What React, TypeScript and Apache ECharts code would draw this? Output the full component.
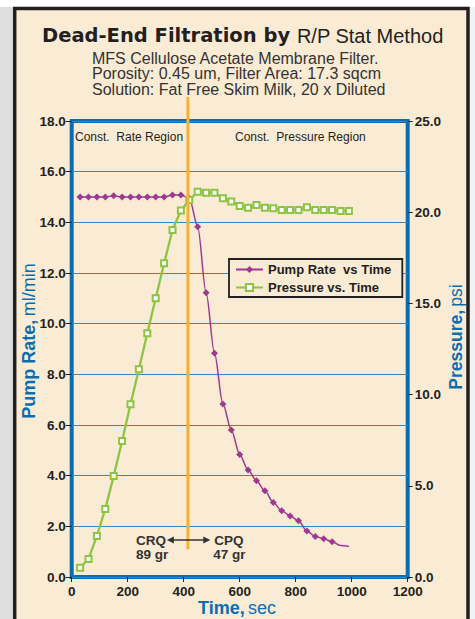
import React, { useEffect, useRef } from 'react';
import * as echarts from 'echarts';

// ---- data ----
const times = [30, 60, 90, 120, 150, 180, 210, 240, 270, 300, 330, 360, 390, 420, 450, 480, 510, 540, 570, 600, 630, 660, 690, 720, 750, 780, 810, 840, 870, 900, 930, 960, 990];
const pumpRate = [15.0, 15.0, 15.0, 15.0, 15.05, 15.0, 15.0, 15.0, 15.0, 15.0, 15.0, 15.08, 15.08, 14.95, 13.83, 11.22, 8.83, 6.83, 5.8, 4.84, 4.22, 3.8, 3.4, 2.94, 2.62, 2.41, 2.22, 1.82, 1.6, 1.51, 1.39, 1.24, 1.2];
const pumpMarkerCount = 31; // last two points drawn without markers
const pressure = [0.51, 0.99, 2.25, 3.73, 5.54, 7.46, 9.47, 11.39, 13.36, 15.28, 17.2, 19.02, 20.09, 20.67, 21.12, 21.07, 21.07, 20.76, 20.58, 20.34, 20.25, 20.39, 20.25, 20.21, 20.12, 20.12, 20.12, 20.27, 20.12, 20.12, 20.12, 20.07, 20.07];

const seriesNames = ['Pump Rate  vs Time', 'Pressure vs. Time'];
const leftAxis = { min: 0, max: 18, interval: 2 };
const rightAxis = { min: 0, max: 25, interval: 5 };
const timeAxis = { min: 0, max: 1200, interval: 200 };

// switch point (orange line) and CRQ/CPQ annotation
const switchTime = 415;
const switchTop = 18.95;
const switchBottom = 1.1;
const arrowFrom = 340;
const arrowTo = 495;
const arrowLevel = 1.46;

const titleBold = 'Dead-End Filtration by ';
const titleNormal = 'R/P Stat Method';
const subtitle = [
  'MFS Cellulose Acetate Membrane Filter.',
  'Porosity: 0.45 um, Filter Area: 17.3 sqcm',
  'Solution: Fat Free Skim Milk, 20 x Diluted',
];

const BLUE = '#0B6DB1';
const GRIDC = '#3A86BE';
const CREAM = '#FAEBD4';
const DARK = '#231F20';
const PURPLE = '#9C3A91';
const GREEN = '#8CC443';
const ORANGE = '#F5B335';
const FONT = '"Liberation Sans", Arial, sans-serif';

export default function App() {
  const ref = useRef<HTMLDivElement>(null);

  useEffect(() => {
    document.body.style.margin = '0';
    const chart = echarts.init(ref.current!, null, { renderer: 'svg', width: 475, height: 619 });

    const tickLabel = { fontSize: 13.5, fontWeight: 'bold' as const, color: DARK, fontFamily: FONT };

    chart.setOption({
      animation: false,
      backgroundColor: CREAM,
      textStyle: { fontFamily: FONT },
      grid: {
        left: 71.7, right: 67.3, top: 121, bottom: 42,
        show: true, borderColor: BLUE, borderWidth: 4, backgroundColor: 'transparent',
      },
      legend: {
        data: seriesNames,
        orient: 'vertical',
        left: 229, top: 259,
        backgroundColor: CREAM,
        borderColor: DARK,
        borderWidth: 1.8,
        borderRadius: 0,
        padding: [4, 11, 3, 6],
        itemWidth: 27, itemHeight: 9, itemGap: 5,
        textStyle: { fontSize: 13, fontWeight: 'bold', color: DARK, fontFamily: FONT },
      },
      xAxis: {
        type: 'value', ...timeAxis,
        axisLine: { show: false },
        axisTick: { show: true, length: 5, lineStyle: { color: DARK } },
        axisLabel: { ...tickLabel, margin: 7, formatter: (v: number) => String(v) },
        splitLine: { show: false },
      },
      yAxis: [
        {
          type: 'value', position: 'left', ...leftAxis,
          axisLine: { show: false },
          axisTick: { show: true, length: 6, lineStyle: { color: DARK } },
          axisLabel: { ...tickLabel, margin: 6, formatter: (v: number) => v.toFixed(1) },
          splitLine: { show: true, lineStyle: { color: GRIDC, width: 1.2 } },
        },
        {
          type: 'value', position: 'right', ...rightAxis,
          axisLine: { show: false },
          axisTick: { show: true, length: 5, lineStyle: { color: DARK } },
          axisLabel: { ...tickLabel, margin: 7, formatter: (v: number) => v.toFixed(1) },
          splitLine: { show: false },
        },
      ],
      series: [
        {
          name: seriesNames[0], type: 'line', yAxisIndex: 0,
          smooth: 0.3, smoothMonotone: 'x',
          symbol: 'diamond', symbolSize: 7,
          lineStyle: { color: PURPLE, width: 1.5 },
          itemStyle: { color: PURPLE },
          data: times.map((t, i) => i < pumpMarkerCount
            ? { value: [t, pumpRate[i]] }
            : { value: [t, pumpRate[i]], symbol: 'none' }),
          z: 3,
        },
        {
          name: seriesNames[1], type: 'line', yAxisIndex: 1,
          symbol: 'emptyRect', symbolSize: 6,
          lineStyle: { color: GREEN, width: 2.3 },
          itemStyle: { color: GREEN, borderWidth: 2 },
          data: times.map((t, i) => [t, pressure[i]]),
          z: 4,
        },
      ],
    });

    const px = (t: number, v: number) => chart.convertToPixel({ xAxisIndex: 0, yAxisIndex: 0 }, [t, v]) as number[];
    const sTop = px(switchTime, switchTop);
    const sBot = px(switchTime, switchBottom);
    const aL = px(arrowFrom, arrowLevel);
    const aR = px(arrowTo, arrowLevel);

    const txt = (x: number, y: number, text: string, size: number, weight: string, extra: any = {}) => ({
      type: 'text', x, y, z: 20,
      style: {
        text, fontSize: size, fontWeight: weight, fontFamily: FONT, fill: extra.fill || DARK,
        textAlign: extra.align || 'left', textVerticalAlign: 'middle',
      },
    });

    chart.setOption({
      graphic: [
        // outside page and frame
        { type: 'rect', z: 30, shape: { x: 0, y: 0, width: 475, height: 7 }, style: { fill: '#ffffff' } },
        { type: 'rect', z: 30, shape: { x: 0, y: 7, width: 13, height: 612 }, style: { fill: '#DEDEDE' } },
        { type: 'rect', z: 30, shape: { x: 470, y: 7, width: 5, height: 612 }, style: { fill: '#F2F2F2' } },
        {
          type: 'polyline', z: 31,
          shape: { points: [[14.7, 625], [14.7, 8.5], [468, 8.5], [468, 625]] },
          style: { stroke: DARK, lineWidth: 3.5, fill: 'none' },
        },
        // title
        {
          type: 'text', x: 42, y: 35.5, z: 20,
          style: {
            text: `{b|${titleBold}}{n|${titleNormal}}`,
            textAlign: 'left', textVerticalAlign: 'middle',
            rich: {
              b: { fontFamily: '"DejaVu Sans", sans-serif', fontWeight: 'bold', fontSize: 19.5, fill: DARK },
              n: { fontFamily: FONT, fontWeight: 'normal', fontSize: 20, fill: DARK },
            },
          },
        },
        ...subtitle.map((s, i) => txt(92, 58 + i * 15.5, s, 16, 'normal', { fill: '#333333' })),
        // region labels
        txt(75, 137, 'Const.  Rate Region', 12, 'normal'),
        txt(235, 137, 'Const.  Pressure Region', 12, 'normal'),
        // orange switch line
        {
          type: 'line', z: 15,
          shape: { x1: sTop[0], y1: sTop[1], x2: sBot[0], y2: sBot[1] },
          style: { stroke: ORANGE, lineWidth: 3 },
        },
        // double arrow
        {
          type: 'line', z: 16,
          shape: { x1: aL[0] + 3, y1: aL[1], x2: aR[0] - 3, y2: aR[1] },
          style: { stroke: '#333333', lineWidth: 1.3 },
        },
        {
          type: 'polygon', z: 16,
          shape: { points: [[aL[0], aL[1]], [aL[0] + 7, aL[1] - 3.5], [aL[0] + 7, aL[1] + 3.5]] },
          style: { fill: '#333333' },
        },
        {
          type: 'polygon', z: 16,
          shape: { points: [[aR[0], aR[1]], [aR[0] - 7, aR[1] - 3.5], [aR[0] - 7, aR[1] + 3.5]] },
          style: { fill: '#333333' },
        },
        txt(aL[0] - 31, aL[1], 'CRQ', 13.5, 'bold', { fill: '#333333' }),
        txt(aL[0] - 31, aL[1] + 14, '89 gr', 13.5, 'bold', { fill: '#333333' }),
        txt(aR[0] + 4, aR[1], 'CPQ', 13.5, 'bold', { fill: '#333333' }),
        txt(aR[0] + 3, aR[1] + 14, '47 gr', 13.5, 'bold', { fill: '#333333' }),
        // axis names
        {
          type: 'text', x: 29, y: 341, rotation: Math.PI / 2, z: 20,
          style: {
            text: '{b|Pump Rate,} {n|ml/min}',
            textAlign: 'center', textVerticalAlign: 'middle',
            rich: {
              b: { fontFamily: FONT, fontWeight: 'bold', fontSize: 18, fill: BLUE },
              n: { fontFamily: FONT, fontWeight: 'normal', fontSize: 18, fill: BLUE },
            },
          },
        },
        {
          type: 'text', x: 455.5, y: 337, rotation: Math.PI / 2, z: 20,
          style: {
            text: '{b|Pressure,} {n|psi}',
            textAlign: 'center', textVerticalAlign: 'middle',
            rich: {
              b: { fontFamily: FONT, fontWeight: 'bold', fontSize: 17.5, fill: BLUE },
              n: { fontFamily: FONT, fontWeight: 'normal', fontSize: 17.5, fill: BLUE },
            },
          },
        },
        {
          type: 'text', x: 237, y: 608, z: 20,
          style: {
            text: '{b|Time,} {n|sec}',
            textAlign: 'center', textVerticalAlign: 'middle',
            rich: {
              b: { fontFamily: FONT, fontWeight: 'bold', fontSize: 18, fill: BLUE },
              n: { fontFamily: FONT, fontWeight: 'normal', fontSize: 18, fill: BLUE },
            },
          },
        },
      ],
    });

    return () => chart.dispose();
  }, []);

  return <div ref={ref} style={{ width: 475, height: 619 }} />;
}
